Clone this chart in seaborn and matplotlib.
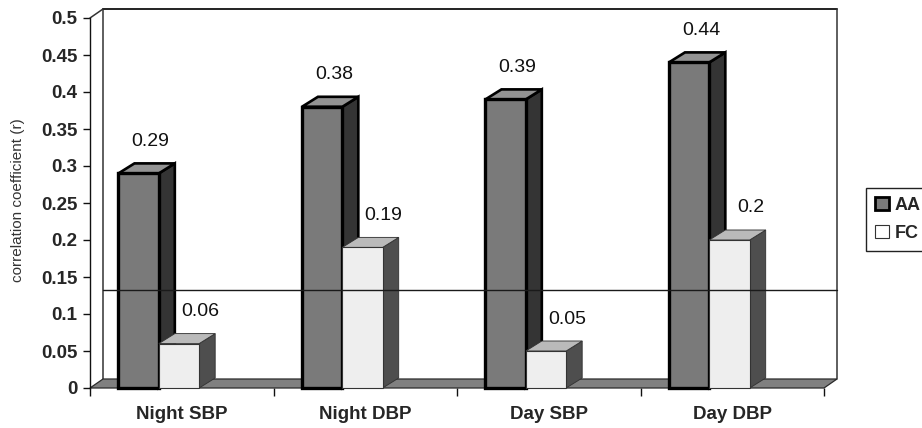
import numpy as np
import pandas as pd
import matplotlib
matplotlib.use("Agg")
import matplotlib.pyplot as plt
from matplotlib.patches import Polygon, Patch
import seaborn as sns

# ---- data -------------------------------------------------------------
measures = ["Night SBP", "Night DBP", "Day SBP", "Day DBP"]
groups = ["AA", "FC"]
aa_r = [0.29, 0.38, 0.39, 0.44]
fc_r = [0.06, 0.19, 0.05, 0.20]
threshold_r = 0.12          # reference line on the back wall
y_ticks = [0, 0.05, 0.1, 0.15, 0.2, 0.25, 0.3, 0.35, 0.4, 0.45, 0.5]

df = pd.DataFrame({
    "measure": measures * 2,
    "group": ["AA"] * len(aa_r) + ["FC"] * len(fc_r),
    "r": aa_r + fc_r,
})

# ---- styling ----------------------------------------------------------
sns.set_style("white")
plt.rcParams["font.family"] = ["Liberation Sans", "DejaVu Sans"]

face = {"AA": "#7a7a7a", "FC": "#eeeeee"}
top_col = {"AA": "#939393", "FC": "#bababa"}
side_col = {"AA": "#343434", "FC": "#4e4e4e"}
edge_col = {"AA": "#000000", "FC": "#333333"}
edge_lw = {"AA": 2.4, "FC": 0.8}

FIG_W, FIG_H = 922, 428
ax_left, ax_right, ax_top, ax_bottom = 90, 824, 18, 388   # front plane, px
shift = 0.125          # category centre sits right of the bar group (3-D depth)
bar_depth_px = (16, 10)
wall_depth_px = (13, 9)

fig = plt.figure(figsize=(FIG_W / 100, FIG_H / 100), dpi=100)
ax = fig.add_axes([ax_left / FIG_W, 1 - ax_bottom / FIG_H,
                   (ax_right - ax_left) / FIG_W, (ax_bottom - ax_top) / FIG_H])

sns.barplot(data=df, x="measure", y="r", hue="group", order=measures,
            hue_order=groups, palette=face, width=0.44, dodge=True,
            errorbar=None, legend=False, ax=ax)

xl, xr = -0.5 + shift, len(measures) - 0.5 + shift
ax.set_xlim(xl, xr)
ax.set_ylim(0, 0.5)

# pixel -> data conversions
px_x = (ax_right - ax_left) / (xr - xl)
px_y = (ax_bottom - ax_top) / 0.5
bdx, bdy = bar_depth_px[0] / px_x, bar_depth_px[1] / px_y
wdx, wdy = wall_depth_px[0] / px_x, wall_depth_px[1] / px_y

# back wall outline
wall_kw = dict(color="#333333", lw=1.1, clip_on=False, zorder=1)
ax.plot([xl + wdx, xl + wdx], [wdy, 0.5 + wdy], **wall_kw)
ax.plot([xl + wdx, xr + wdx], [0.5 + wdy, 0.5 + wdy], color="#222222", lw=1.4,
        clip_on=False, zorder=1)
ax.plot([xr + wdx, xr + wdx], [0.5 + wdy, wdy], **wall_kw)
ax.plot([xl, xl + wdx], [0.5, 0.5 + wdy], **wall_kw)

# floor slab
floor = Polygon([(xl, 0), (xr, 0), (xr + wdx, wdy), (xl + wdx, wdy)],
                closed=True, facecolor="#808080", edgecolor="#2a2a2a", lw=0.9,
                clip_on=False, zorder=1.5)
ax.add_patch(floor)

# 3-D faces for each bar
for gi, (grp, cont) in enumerate(zip(groups, ax.containers)):
    z = 3 + gi
    for rect in cont:
        x0, w, h = rect.get_x(), rect.get_width(), rect.get_height()
        side = Polygon([(x0 + w, 0), (x0 + w, h), (x0 + w + bdx, h + bdy),
                        (x0 + w + bdx, bdy)], closed=True,
                       facecolor=side_col[grp], edgecolor=edge_col[grp],
                       lw=edge_lw[grp] * 0.8, clip_on=False, zorder=z)
        top = Polygon([(x0, h), (x0 + w, h), (x0 + w + bdx, h + bdy),
                       (x0 + bdx, h + bdy)], closed=True,
                      facecolor=top_col[grp], edgecolor=edge_col[grp],
                      lw=edge_lw[grp] * 0.8, clip_on=False, zorder=z)
        ax.add_patch(side)
        ax.add_patch(top)
        rect.set_edgecolor(edge_col[grp])
        rect.set_linewidth(edge_lw[grp])
        rect.set_zorder(z + 0.1)
        rect.set_clip_on(False)

# value labels
label_dx_px = {"AA": 12, "FC": 21}
for grp, cont, vals in zip(groups, ax.containers, [aa_r, fc_r]):
    for rect, v in zip(cont, vals):
        cx = rect.get_x() + rect.get_width() / 2 + label_dx_px[grp] / px_x
        ax.text(cx, v + 32 / px_y, f"{v:g}", ha="center", va="center",
                fontsize=14, color="#111111", zorder=10)

# reference line across the back wall
ax.plot([xl + wdx, xr + wdx], [threshold_r + wdy] * 2, color="#1a1a1a",
        lw=1.0, clip_on=False, zorder=8)

# axes
for s in ["top", "right", "bottom"]:
    ax.spines[s].set_visible(False)
ax.spines["left"].set_color("#111111")
ax.spines["left"].set_linewidth(1.0)
ax.spines["left"].set_zorder(2)

ax.set_yticks(y_ticks)
ax.set_yticklabels([f"{t:g}" for t in y_ticks], fontsize=13.5,
                   fontweight="bold")
ax.tick_params(axis="y", left=True, direction="out", length=5, width=1,
               color="#111111", pad=4)

ax.set_xticks(np.arange(len(measures)) + shift)
ax.set_xticklabels(measures, fontsize=13.5, fontweight="bold")
ax.set_xticks(np.arange(len(measures) + 1) - 0.5 + shift, minor=True)
ax.tick_params(axis="x", which="major", bottom=True, length=0, pad=13)
ax.tick_params(axis="x", which="minor", bottom=True, direction="out",
               length=6, width=1, color="#111111")
ax.set_xlabel("")
ax.set_ylabel("")
fig.text(18 / FIG_W, 1 - 200 / FIG_H, "correlation coefficient (r)",
         rotation=90, ha="center", va="center", fontsize=11, color="#333333")

# legend
handles = [Patch(facecolor=face["AA"], edgecolor="black", lw=2.0),
           Patch(facecolor="white", edgecolor="#333333", lw=0.8)]
fig.legend(handles=handles, labels=groups, loc="upper left",
           bbox_to_anchor=(866 / FIG_W, 1 - 188 / FIG_H),
           prop={"size": 13, "weight": "bold"}, frameon=True, fancybox=False,
           edgecolor="#222222", framealpha=1, handlelength=0.75,
           handleheight=0.75, handletextpad=0.35, borderpad=0.5,
           labelspacing=0.6, borderaxespad=0)

fig.savefig("out.png", dpi=100)
